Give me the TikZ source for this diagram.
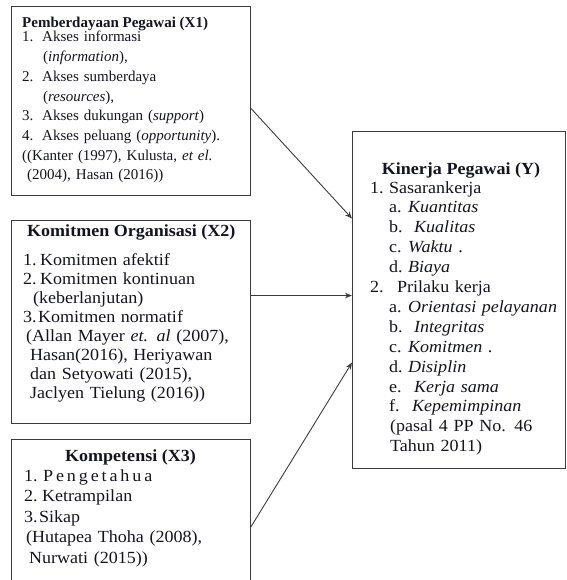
\documentclass[tikz,border=0pt]{standalone}
\usepackage{fontspec}
\setmainfont{Liberation Serif}
\newfontfamily\widefont[FakeStretch=1.06]{Liberation Serif}
\usetikzlibrary{arrows.meta}
\definecolor{ln}{HTML}{3C3C3C}
\definecolor{tx}{HTML}{141420}
\newcommand{\lbl}[2]{\makebox[#1][l]{#2}}
\tikzset{
 box/.style={draw=ln, line width=1.1pt, anchor=north west, inner sep=0pt},
 ttl/.style={anchor=base, inner sep=0pt, font=\widefont\bfseries\fontsize{17}{20}\selectfont, text=tx},
 ttlw/.style={anchor=base west, inner sep=0pt, text=tx},
 body/.style={anchor=base west, inner sep=0pt, align=left, text width=230pt, text=tx},
 arr/.style={draw=ln, line width=0.9pt, -{Stealth[length=7pt,width=5.5pt]}}
}
\begin{document}
\begin{tikzpicture}[x=1pt,y=-1pt]
\useasboundingbox (0,0) rectangle (566,580);
\clip (0,0) rectangle (566,580);
% boxes
\node[box, minimum width=239pt, minimum height=189pt] (x1) at (11,6) {};
\node[box, minimum width=239pt, minimum height=203pt] (x2) at (11,220) {};
\node[box, minimum width=239pt, minimum height=181pt] (x3) at (11,439) {};
\node[box, minimum width=213pt, minimum height=337pt] (y) at (352,131) {};
% box 1
\node[ttlw, font=\bfseries\fontsize{15}{18}\selectfont] (t1) at (22,28) {Pemberdayaan Pegawai (X1)};
\node[body, font=\fontsize{15}{19.7}\selectfont] (b1) at (22,42) {%
\lbl{20pt}{1.}Akses informasi\\
\hspace*{21pt}(\textit{information}),\\
\lbl{20pt}{2.}Akses sumberdaya\\
\hspace*{21pt}(\textit{resources}),\\
\lbl{20pt}{3.}Akses dukungan  (\textit{support})\\
\lbl{20pt}{4.}Akses peluang  (\textit{opportunity}).\\
((Kanter (1997), Kulusta, \textit{et el.}\\
\hspace*{5pt}(2004), Hasan (2016))};
% box 2
\node[ttlw, font=\widefont\bfseries\fontsize{17}{20}\selectfont] (t2) at (27,236) {Komitmen Organisasi (X2)};
\node[body, font=\widefont\fontsize{17}{19}\selectfont] (b2) at (23,265) {%
\lbl{17pt}{1.}Komitmen afektif\\
\lbl{17pt}{2.}Komitmen kontinuan\\
\hspace*{10pt}(keberlanjutan)\\
\lbl{15pt}{3.}Komitmen normatif\\
\hspace*{3pt}(Allan  Mayer \textit{et. al} (2007),\\
\hspace*{7pt}Hasan(2016), Heriyawan\\
\hspace*{7pt}dan Setyowati (2015),\\
\hspace*{7pt}Jaclyen Tielung  (2016))};
% box 3
\node[ttl] (t3) at (130.5,461) {Kompetensi (X3)};
\node[body, font=\widefont\fontsize{17}{20.5}\selectfont] (b3) at (24,481) {%
\lbl{19pt}{1.}{\addfontfeature{LetterSpace=17}Pengetahua}\\
\lbl{18pt}{2.}Ketrampilan\\
\lbl{15pt}{3.}Sikap\\
\hspace*{2pt}(Hutapea Thoha (2008),\\
\hspace*{5pt}Nurwati (2015))};
% box Y
\node[ttl] (ty) at (461,174) {Kinerja Pegawai (Y)};
\node[body, text width=192pt, font=\widefont\fontsize{17}{19.9}\selectfont] (by) at (370,193) {%
\lbl{19pt}{1.}Sasarankerja\\
\hspace*{19pt}\lbl{19pt}{a.}\textit{Kuantitas}\\
\hspace*{19pt}\lbl{25pt}{b.}\textit{Kualitas}\\
\hspace*{19pt}\lbl{19pt}{c.}\textit{Waktu} .\\
\hspace*{19pt}\lbl{19pt}{d.}\textit{Biaya}\\
\lbl{27pt}{2.}Prilaku kerja\\
\hspace*{19pt}\lbl{19pt}{a.}\textit{Orientasi pelayanan}\\
\hspace*{19pt}\lbl{25pt}{b.}\textit{Integritas}\\
\hspace*{19pt}\lbl{19pt}{c.}\textit{Komitmen} .\\
\hspace*{19pt}\lbl{19pt}{d.}\textit{Disiplin}\\
\hspace*{19pt}\lbl{25pt}{e.}\textit{Kerja sama}\\
\hspace*{19pt}\lbl{23pt}{f.}\textit{Kepemimpinan}\\
\hspace*{20pt}(pasal 4 PP No. 46\\
\hspace*{20pt}Tahun 2011)};
% arrows
\draw[arr] ([yshift=-7.5pt]x1.east) -- ([yshift=81.5pt]y.west);
\draw[arr] ([yshift=26.5pt]x2.east) -- ([yshift=4.5pt]y.west);
\draw[arr] ([yshift=3.5pt]x3.east) -- ([yshift=-62.5pt]y.west);
\end{tikzpicture}
\end{document}
